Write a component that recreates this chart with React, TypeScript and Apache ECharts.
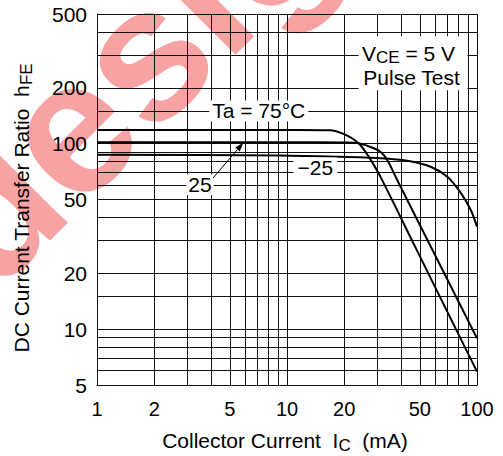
import React, { useEffect, useRef } from 'react';
import * as echarts from 'echarts';

const FONT = '"Liberation Sans", Arial, Helvetica, sans-serif';

// Tick labels
const xTickLabels = [1, 2, 5, 10, 20, 50, 100];
const yTickLabels = [5, 10, 20, 50, 100, 200, 500];

// Grid line positions (log paper)
const xGridValues = [1, 2, 3, 4, 5, 6, 7, 8, 9, 10, 20, 30, 40, 50, 60, 70, 80, 90, 100];
const yGridValues = [5, 6, 7, 8, 9, 10, 15, 20, 30, 40, 50, 60, 70, 80, 90, 100, 150, 200, 300, 400, 500];

// Curves: [Ic (mA), hFE]
const curve75: [number, number][] = [
  [1, 118.5], [5, 118.5], [10, 118.4], [16.9, 118], [19.5, 113.7], [22, 106.9],
  [24.3, 98.3], [26.9, 85.1], [31, 66.4], [47.5, 27.5], [100, 5.9],
];
const curve25: [number, number][] = [
  [1, 101.8], [10, 101.7], [20, 101.4], [23.4, 100.8], [27.5, 96], [31, 90.5],
  [33.7, 81.6], [38, 63.7], [100, 8.93],
];
const curveM25: [number, number][] = [
  [1, 87.2], [9.2, 86.3], [18.3, 85], [31, 83.4], [42.9, 80.9], [57, 75.1],
  [69.8, 66.4], [82, 54.5], [92.6, 44], [100, 35.7],
];

// Annotation anchors (data coordinates)
const taLabel = { x: 7.1, y: 150, text: 'Ta = 75°C' };
const label25 = { x: 3.48, y: 60, text: '25' };
const labelM25 = { x: 14.1, y: 74, text: '−25' };
const arrow25 = { from: [4.08, 65.3], to: [5.89, 101.2] };
const condBox = { x: 45.8, y1: 307, y2: 227 };

export default function App() {
  const ref = useRef<HTMLDivElement>(null);
  useEffect(() => {
    const chart = echarts.init(ref.current!, null, { renderer: 'svg' });
    const mk = (data: [number, number][], name: string) => ({
      type: 'line', name, data, symbol: 'none', showSymbol: false, smooth: 0.3,
      lineStyle: { color: '#000', width: 2 }, z: 5, silent: true,
    });
    const axisCommon = {
      type: 'log', logBase: 10,
      axisLine: { show: true, lineStyle: { color: '#000', width: 1 } },
      axisTick: { show: false },
      splitLine: { show: false },
      minorSplitLine: { show: false },
    };
    chart.setOption({
      animation: false,
      backgroundColor: '#fff',
      grid: { left: 97, right: 26, top: 14, bottom: 71, containLabel: false },
      xAxis: {
        ...axisCommon, min: 1, max: 100,
        axisLabel: {
          customValues: xTickLabels, fontSize: 20, color: '#000', fontFamily: FONT, margin: 14,
          formatter: (v: number) => String(Math.round(v)),
        },
      },
      yAxis: {
        ...axisCommon, min: 5, max: 500,
        axisLabel: {
          customValues: yTickLabels, fontSize: 21, color: '#000', fontFamily: FONT, margin: 10,
          formatter: (v: number) => String(Math.round(v)),
        },
      },
      series: [
        {
          type: 'line', data: [], silent: true,
          markLine: {
            silent: true, symbol: ['none', 'none'], label: { show: false },
            lineStyle: { color: '#111', width: 1, type: 'solid' },
            emphasis: { disabled: true },
            data: [
              ...xGridValues.map((v) => ({ xAxis: v })),
              ...yGridValues.map((v) => ({ yAxis: v })),
            ],
          },
        },
        mk(curve75, '75'),
        mk(curve25, '25'),
        mk(curveM25, '-25'),
      ],
    });

    const p = (x: number, y: number) => chart.convertToPixel({ gridIndex: 0 } as any, [x, y]) as number[];
    const pTa = p(taLabel.x, taLabel.y);
    const p25 = p(label25.x, label25.y);
    const pM25 = p(labelM25.x, labelM25.y);
    const a0 = p(arrow25.from[0], arrow25.from[1]);
    const a1 = p(arrow25.to[0], arrow25.to[1]);
    const c1 = p(condBox.x, condBox.y1);
    const c2 = p(condBox.x, condBox.y2);

    const dx = a1[0] - a0[0], dy = a1[1] - a0[1];
    const len = Math.sqrt(dx * dx + dy * dy);
    const ux = dx / len, uy = dy / len;
    const hl = 9, hw = 3;
    const bx = a1[0] - ux * hl, by = a1[1] - uy * hl;

    const txt = (x: number, y: number, text: string, extra: any = {}) => ({
      type: 'text', x, y, z: 50,
      style: {
        text, fontSize: 21, fontFamily: FONT, fill: '#000', align: 'center', verticalAlign: 'middle',
        ...extra,
      },
    });
    const richStyles = {
      a: { fontSize: 21, lineHeight: 28, fontFamily: FONT, fill: '#000' },
      s: { fontSize: 17, lineHeight: 17, verticalAlign: 'bottom', fontFamily: FONT, fill: '#000' },
    };
    const richCompact = {
      a: { fontSize: 21, lineHeight: 26, fontFamily: FONT, fill: '#000' },
      s: { fontSize: 17, lineHeight: 15, verticalAlign: 'bottom', fontFamily: FONT, fill: '#000' },
    };

    chart.setOption({
      graphic: [
        {
          type: 'text', x: -52, y: 249, rotation: Math.PI / 4, z: -10, silent: true,
          style: {
            text: 'design', fontSize: 190, fontWeight: 'bold', fontFamily: FONT,
            fill: '#f8a3a3', align: 'left', verticalAlign: 'middle',
          },
        },
        txt(pTa[0], pTa[1], taLabel.text, { backgroundColor: '#fff', padding: [0, 3] }),
        txt(p25[0], p25[1], label25.text, { backgroundColor: '#fff', padding: [0, 2] }),
        txt(pM25[0], pM25[1], labelM25.text, { backgroundColor: '#fff', padding: [0, 4] }),
        {
          type: 'line', z: 50, shape: { x1: a0[0], y1: a0[1], x2: bx, y2: by },
          style: { stroke: '#000', lineWidth: 1 },
        },
        {
          type: 'polygon', z: 50,
          shape: { points: [[a1[0], a1[1]], [bx - uy * hw, by + ux * hw], [bx + uy * hw, by - ux * hw]] },
          style: { fill: '#000' },
        },
        {
          type: 'rect', z: 49, shape: { x: c1[0] - 54, y: c1[1] - 17, width: 109, height: 54 },
          style: { fill: '#fff' },
        },
        txt(c1[0] - 4, c1[1], '{a|V}{s|CE}{a| = 5 V}', { rich: richCompact }),
        txt(c2[0] - 1, c2[1], 'Pulse Test'),
        txt(285, 440, '{a|Collector Current  I}{s|C}{a|  (mA)}', { rich: richStyles }),
        {
          type: 'text', x: 21, y: 208, rotation: Math.PI / 2, z: 50,
          style: {
            text: '{a|DC Current Transfer Ratio  h}{s|FE}', align: 'center', verticalAlign: 'middle',
            fontFamily: FONT, fill: '#000', rich: richStyles,
          },
        },
      ],
    });
    return () => chart.dispose();
  }, []);
  return <div ref={ref} style={{ position: 'absolute', left: 0, top: 0, width: 503, height: 456 }} />;
}
